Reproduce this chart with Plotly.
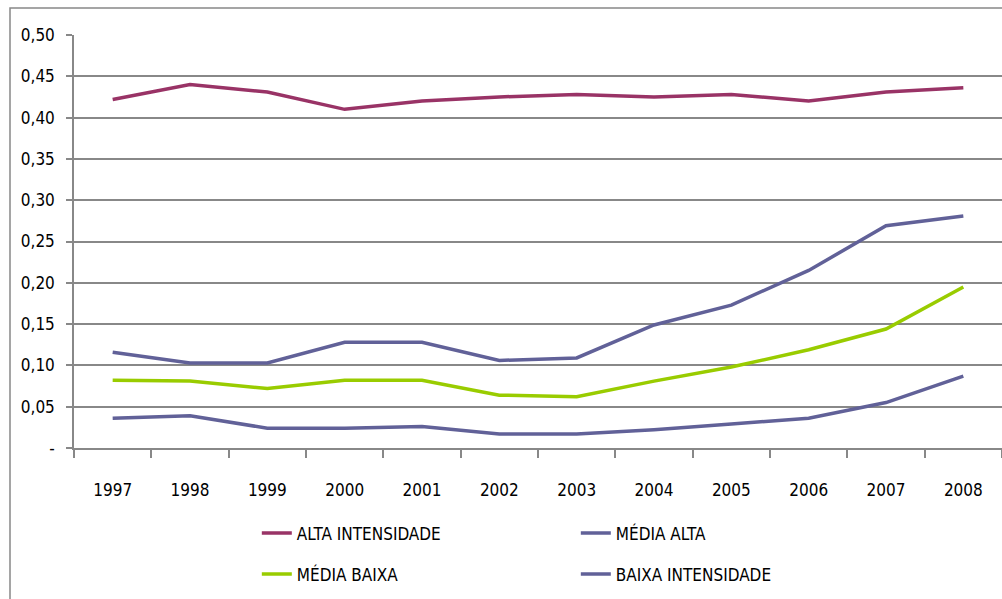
import plotly.graph_objects as go

years = ["1997", "1998", "1999", "2000", "2001", "2002", "2003", "2004", "2005", "2006", "2007", "2008"]
alta_intensidade = [0.422, 0.440, 0.431, 0.410, 0.420, 0.425, 0.428, 0.425, 0.428, 0.420, 0.431, 0.436]
media_alta = [0.116, 0.103, 0.103, 0.128, 0.128, 0.106, 0.109, 0.149, 0.173, 0.215, 0.269, 0.281]
media_baixa = [0.082, 0.081, 0.072, 0.082, 0.082, 0.064, 0.062, 0.081, 0.098, 0.119, 0.144, 0.195]
baixa_intensidade = [0.036, 0.039, 0.024, 0.024, 0.026, 0.017, 0.017, 0.022, 0.029, 0.036, 0.055, 0.087]

y_tickvals = [0, 0.05, 0.10, 0.15, 0.20, 0.25, 0.30, 0.35, 0.40, 0.45, 0.50]
y_ticktext = ["-", "0,05", "0,10", "0,15", "0,20", "0,25", "0,30", "0,35", "0,40", "0,45", "0,50"]

series = [
    ("ALTA INTENSIDADE", alta_intensidade, "#993366", "legend"),
    ("MÉDIA ALTA", media_alta, "#616198", "legend"),
    ("MÉDIA BAIXA", media_baixa, "#99CC00", "legend2"),
    ("BAIXA INTENSIDADE", baixa_intensidade, "#616198", "legend2"),
]

FONT = "Liberation Sans Narrow, DejaVu Sans Condensed, Liberation Sans, Arial, sans-serif"

fig = go.Figure()
for name, vals, color, lg in series:
    fig.add_trace(go.Scatter(x=years, y=vals, mode="lines", name=name, legend=lg,
                             line=dict(color=color, width=3.5)))

legend_common = dict(orientation="h", xanchor="left", yanchor="top",
                     entrywidth=274, entrywidthmode="pixels",
                     font=dict(family=FONT, size=17), itemwidth=30,
                     traceorder="normal", bgcolor="rgba(0,0,0,0)")

fig.update_layout(
    width=1002, height=599,
    margin=dict(l=74, r=0, t=35, b=151),
    paper_bgcolor="white", plot_bgcolor="white",
    font=dict(family=FONT, size=17, color="#000000"),
    showlegend=True,
    legend=dict(x=0.197, y=-0.1635, **legend_common),
    legend2=dict(x=0.197, y=-0.2628, **legend_common),
    xaxis=dict(type="category", tickson="boundaries", ticks="outside", ticklen=8,
               tickcolor="#888888", tickwidth=1.5,
               showline=True, linecolor="#888888", linewidth=1.5,
               showgrid=False, ticklabelstandoff=26,
               tickfont=dict(family=FONT, size=17), range=[-0.5, 11.5]),
    yaxis=dict(range=[0, 0.5], tickvals=y_tickvals, ticktext=y_ticktext,
               ticks="outside", ticklen=6, tickcolor="#888888", tickwidth=1.5,
               showline=True, linecolor="#888888", linewidth=1.5,
               showgrid=True, gridcolor="#888888", gridwidth=1.5,
               zeroline=False, ticklabelstandoff=8,
               tickfont=dict(family=FONT, size=17)),
    shapes=[dict(type="rect", xref="paper", yref="paper",
                 x0=-64/928, x1=1.2, y0=-0.5, y1=1 + 27/413,
                 line=dict(color="#888888", width=1.5), layer="below")],
)

fig.write_html("out.html", config={"displayModeBar": False},
               post_script="document.body.style.margin='0';document.body.style.padding='0';")
